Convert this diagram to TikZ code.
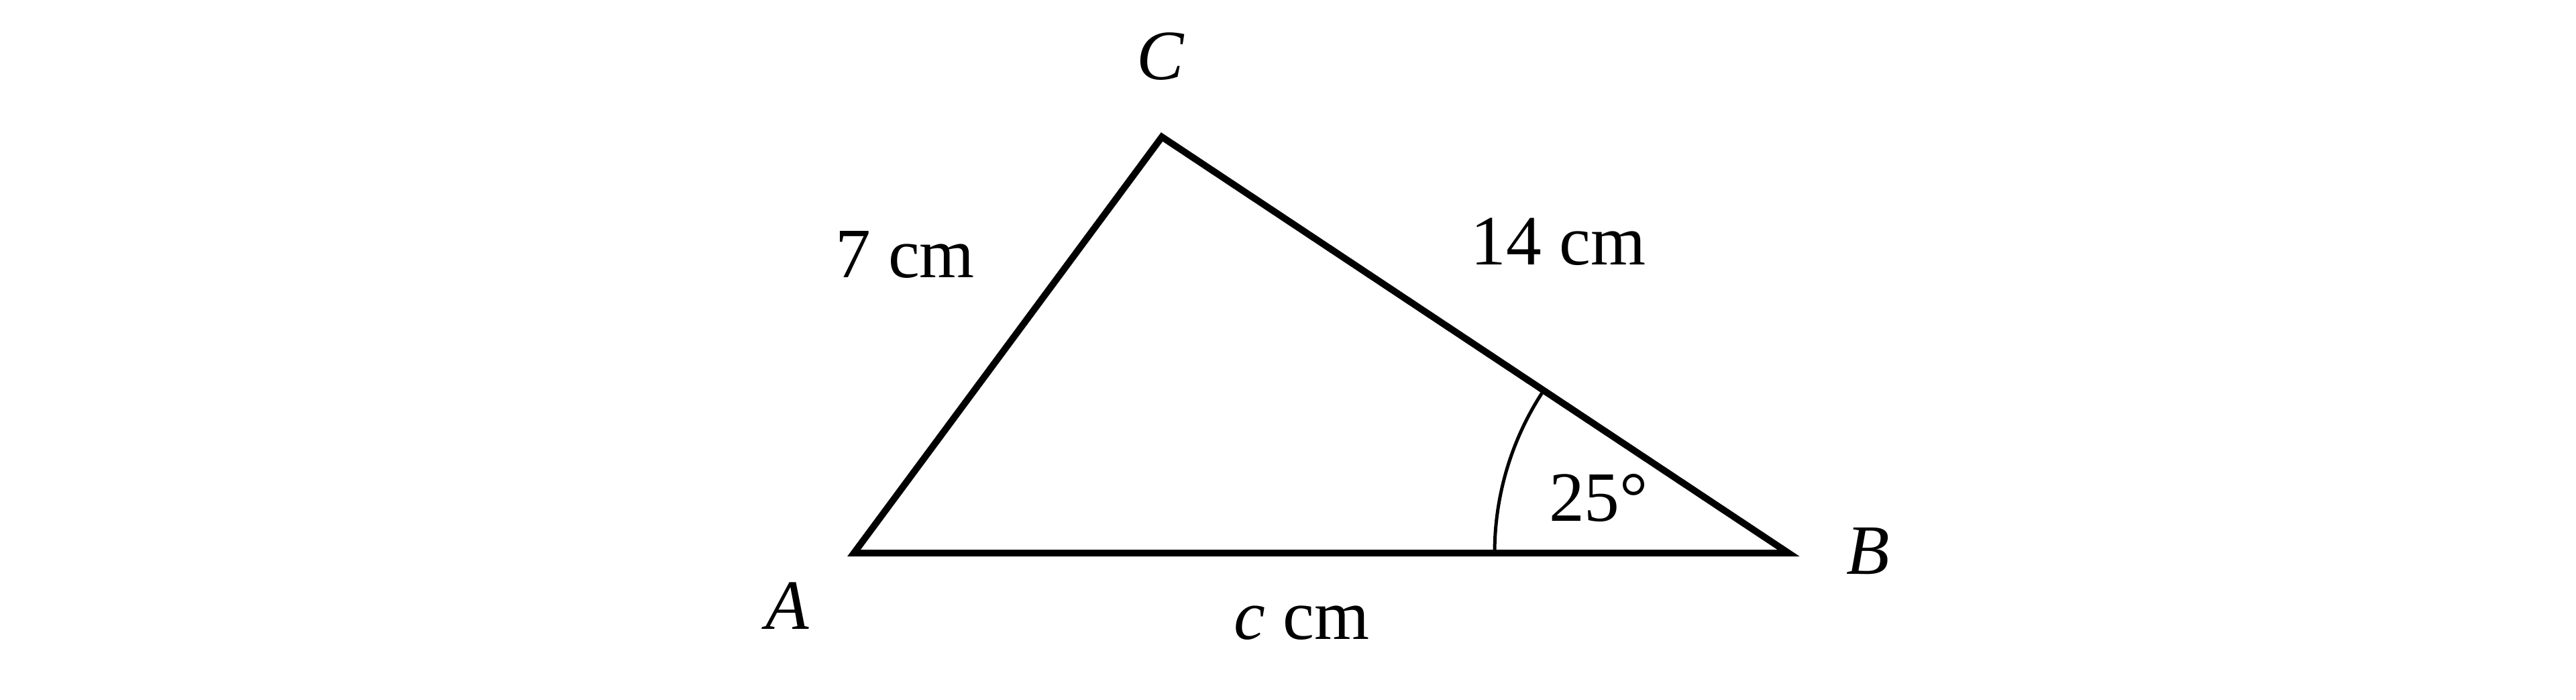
\documentclass[tikz,border=0pt]{standalone}
\usepackage{fontspec}
\setmainfont{Liberation Serif}
\usetikzlibrary{calc}
\begin{document}
\begin{tikzpicture}[
  side/.style={line width=0.1cm, line join=miter},
  anglearc/.style={line width=0.05cm},
  lbl/.style={inner sep=0pt, anchor=base, font=\fontsize{30}{36}\selectfont}
]
\useasboundingbox (0,0) rectangle (38.4,10.42);
\coordinate (A) at (12.73,2.18);
\coordinate (B) at (26.66,2.18);
\coordinate (C) at (17.32,8.38);
\draw[side] (A) -- (B) -- (C) -- cycle;
\draw[anglearc] ($(B)!4.38cm!(A)$) arc[start angle=180, end angle=146.42, radius=4.38cm];
\node[lbl] (lA) at (11.74,1.05) {\textit{A}};
\node[lbl] (lB) at (27.85,1.87) {\textit{B}};
\node[lbl] (lC) at (17.30,9.23) {\textit{C}};
\node[lbl] (lAC) at (13.49,6.28) {7 cm};
\node[lbl] (lBC) at (23.23,6.47) {14 cm};
\node[lbl] (lAB) at (19.40,0.90) {\textit{c} cm};
\node[lbl] (lang) at (23.83,2.65) {25°};
\end{tikzpicture}
\end{document}
